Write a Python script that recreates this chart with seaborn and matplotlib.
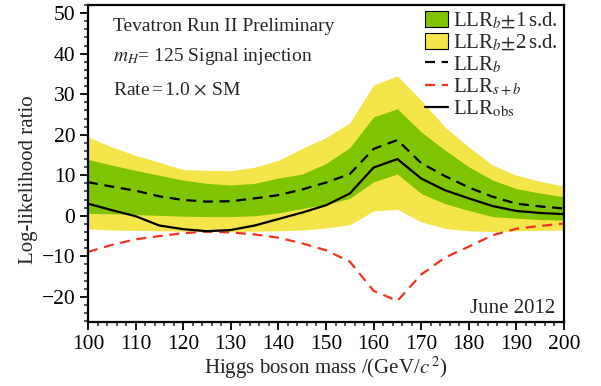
import numpy as np
import pandas as pd
import matplotlib
matplotlib.use("Agg")
import matplotlib.pyplot as plt
import seaborn as sns
from matplotlib.patches import Patch
from matplotlib.lines import Line2D
from matplotlib.ticker import MultipleLocator

# Higgs mass grid (GeV/c^2)
mass = [100, 105, 110, 115, 120, 125, 130, 135, 140, 145, 150,
        155, 160, 165, 170, 175, 180, 185, 190, 195, 200]

# Background-only expectation and its bands
llr_b = [8.3, 7.2, 6.2, 4.8, 3.9, 3.5, 3.6, 4.3, 5.1, 6.5, 8.2,
         10.3, 16.5, 18.7, 13.0, 9.8, 7.0, 4.7, 3.0, 2.3, 1.8]
b_plus1 = [13.9, 12.5, 11.2, 10.0, 8.8, 8.0, 7.6, 8.0, 9.3, 10.3, 12.9,
           16.8, 24.4, 26.4, 20.7, 16.2, 12.1, 8.8, 6.7, 5.6, 4.7]
b_minus1 = [0.6, 0.5, 0.3, 0.1, -0.1, -0.2, -0.2, 0.0, 0.7, 1.8, 2.8,
            4.3, 8.4, 10.3, 5.5, 3.0, 1.3, -0.2, -0.6, -0.9, -1.1]
b_plus2 = [19.4, 17.0, 14.9, 13.2, 11.4, 11.2, 11.1, 12.0, 13.7, 16.6, 19.3,
           22.9, 32.3, 34.5, 28.5, 21.9, 17.0, 12.5, 10.0, 8.5, 7.3]
b_minus2 = [-3.2, -3.5, -3.6, -3.7, -3.8, -3.9, -3.9, -3.8, -3.7, -3.5, -3.0,
            -2.2, 1.2, 1.6, -1.5, -3.1, -3.7, -3.9, -3.7, -3.6, -3.5]

# Signal+background expectation and (injected) observation
llr_sb = [-8.9, -7.2, -5.8, -5.0, -4.3, -3.9, -4.1, -4.6, -5.4, -6.8, -8.5,
          -11.3, -18.5, -21.0, -14.5, -10.3, -7.6, -4.8, -3.2, -2.5, -1.9]
llr_obs = [3.0, 1.4, -0.1, -2.4, -3.3, -3.8, -3.5, -2.4, -0.8, 0.8, 2.6,
           5.5, 11.9, 14.0, 9.2, 6.3, 4.3, 2.4, 1.2, 0.7, 0.4]

green = "#7fc400"
yellow = "#f5e44a"
red = "#ee3322"

sns.set_theme(style="ticks")
plt.rcParams["font.family"] = ["Liberation Serif", "DejaVu Serif"]
plt.rcParams["mathtext.fontset"] = "stix"

df = pd.DataFrame({"mass": mass, "llr_b": llr_b, "llr_sb": llr_sb,
                   "llr_obs": llr_obs})

fig = plt.figure(figsize=(6.01, 3.86), dpi=100)
ax = fig.add_axes([0.1464, 0.1658, 0.7920, 0.8212])

ax.fill_between(mass, b_minus2, b_plus2, color=yellow, lw=0)
ax.fill_between(mass, b_minus1, b_plus1, color=green, lw=0)

dash = (0, (4.5, 3))
sns.lineplot(data=df, x="mass", y="llr_b", ax=ax, color="black", lw=1.6,
             linestyle=dash)
sns.lineplot(data=df, x="mass", y="llr_sb", ax=ax, color=red, lw=1.6,
             linestyle=dash)
sns.lineplot(data=df, x="mass", y="llr_obs", ax=ax, color="black", lw=1.6)

ax.set_xlim(100, 200)
ax.set_ylim(-26.2, 52)
ax.xaxis.set_major_locator(MultipleLocator(10))
ax.xaxis.set_minor_locator(MultipleLocator(2))
ax.yaxis.set_major_locator(MultipleLocator(10))
ax.yaxis.set_minor_locator(MultipleLocator(2))
ax.tick_params(axis="both", which="major", direction="out", length=6,
               width=1.3, labelsize=15.5, colors="black", pad=3)
ax.tick_params(axis="both", which="minor", direction="out", length=3,
               width=1.1)
for s in ax.spines.values():
    s.set_linewidth(1.6)
    s.set_color("black")

ax.set_xlabel(r"Higgs boson mass /(GeV/$c^{\,2}$)", fontsize=15, labelpad=1)
ax.set_ylabel("Log-likelihood ratio", fontsize=15, labelpad=4)
ax.yaxis.set_label_coords(-0.106, 0.45)

txt = dict(transform=ax.transAxes, fontsize=14, va="baseline", ha="left")
ax.text(0.053, 0.918, "Tevatron Run II Preliminary", **txt)
ax.text(0.053, 0.822, r"$m_H$= 125 Signal injection", **txt)
ax.text(0.053, 0.719, r"Rate$\,$=$\,$1.0$\,\times\,$SM", **txt)
ax.text(0.981, 0.028, "June 2012", transform=ax.transAxes,
        fontsize=15, va="baseline", ha="right")

handles = [
    Patch(facecolor=green, edgecolor="black", lw=0.8),
    Patch(facecolor=yellow, edgecolor="black", lw=0.8),
    Line2D([], [], color="black", lw=1.6, linestyle=dash),
    Line2D([], [], color=red, lw=1.6, linestyle=dash),
    Line2D([], [], color="black", lw=1.6),
]
labels = [r"LLR$_b$$\pm$1$\,$s.d.", r"LLR$_b$$\pm$2$\,$s.d.", r"LLR$_b$",
          r"LLR$_{s+b}$", r"LLR$_{\rm obs}$"]
ax.legend(handles, labels, loc="upper right", frameon=False, fontsize=15,
          handlelength=1.1, handleheight=0.8, handletextpad=0.25,
          labelspacing=0.05, borderaxespad=0.15, borderpad=0.15)

fig.savefig("out.png", dpi=100)
